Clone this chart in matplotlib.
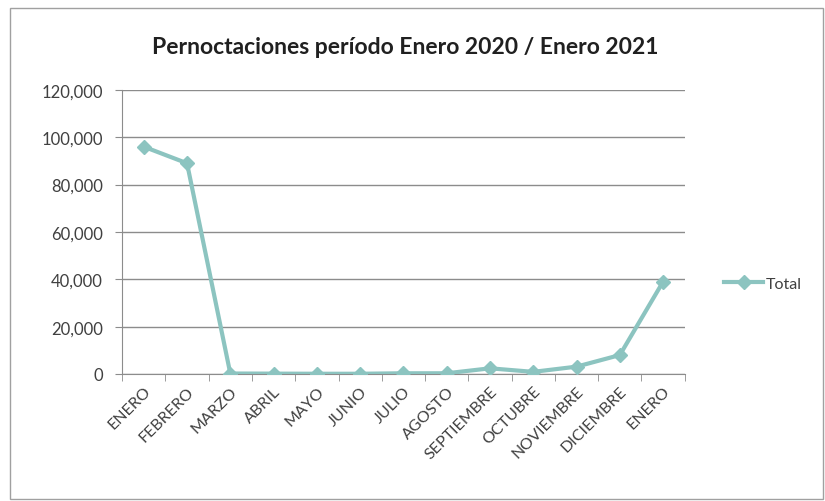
import matplotlib.pyplot as plt
from matplotlib.patches import Rectangle
from matplotlib.ticker import FuncFormatter, FixedLocator

months = ['ENERO', 'FEBRERO', 'MARZO', 'ABRIL', 'MAYO', 'JUNIO', 'JULIO',
          'AGOSTO', 'SEPTIEMBRE', 'OCTUBRE', 'NOVIEMBRE', 'DICIEMBRE', 'ENERO']
total = [96000, 89000, 200, 150, 100, 100, 300, 300, 2400, 900, 3100, 8000, 39000]
yticks = [0, 20000, 40000, 60000, 80000, 100000, 120000]

plt.rcParams['font.family'] = ['Lato', 'DejaVu Sans']
line_col = '#8cc4c0'
text_col = '#404040'

fig = plt.figure(figsize=(8.25, 5.02), dpi=100)
ax = fig.add_axes([0.148, 0.253, 0.682, 0.566])

# chart border
fig.patches.append(Rectangle((0.012, 0.004), 0.985, 0.978, transform=fig.transFigure,
                             fill=False, edgecolor='#a0a0a0', linewidth=1))

x = list(range(len(months)))
ax.plot(x, total, color=line_col, linewidth=3, marker='D', markersize=7.5,
        markeredgecolor=line_col, label='Total', zorder=3)

ax.set_xlim(-0.5, len(months) - 0.5)
ax.set_ylim(0, 120000)
ax.set_yticks(yticks)
ax.yaxis.set_major_formatter(FuncFormatter(lambda v, p: f'{int(v):,}'))
ax.grid(axis='y', color='#8c8c8c', linewidth=1)
ax.set_axisbelow(True)

ax.set_xticks(x)
ax.set_xticklabels(months, rotation=45, ha='right', rotation_mode='anchor',
                   fontsize=11.5, color=text_col)
ax.tick_params(axis='x', which='major', length=0, pad=7)
ax.xaxis.set_minor_locator(FixedLocator([i - 0.5 for i in range(len(months) + 1)]))
ax.tick_params(axis='x', which='minor', length=5, color='#8c8c8c')
ax.tick_params(axis='y', length=5, pad=9, color='#8c8c8c', labelsize=12, labelcolor=text_col)

for s in ['top', 'right']:
    ax.spines[s].set_visible(False)
for s in ['left', 'bottom']:
    ax.spines[s].set_color('#8c8c8c')

fig.text(0.491, 0.905, 'Pernoctaciones período Enero 2020 / Enero 2021',
         ha='center', va='center', fontsize=16.5, fontweight='bold', color='#202020')

ax.legend(loc='center left', bbox_to_anchor=(1.045, 0.317), frameon=False,
          fontsize=11.5, handlelength=2.4, handletextpad=0.2, labelcolor=text_col)

fig.savefig('out.png', dpi=100)
